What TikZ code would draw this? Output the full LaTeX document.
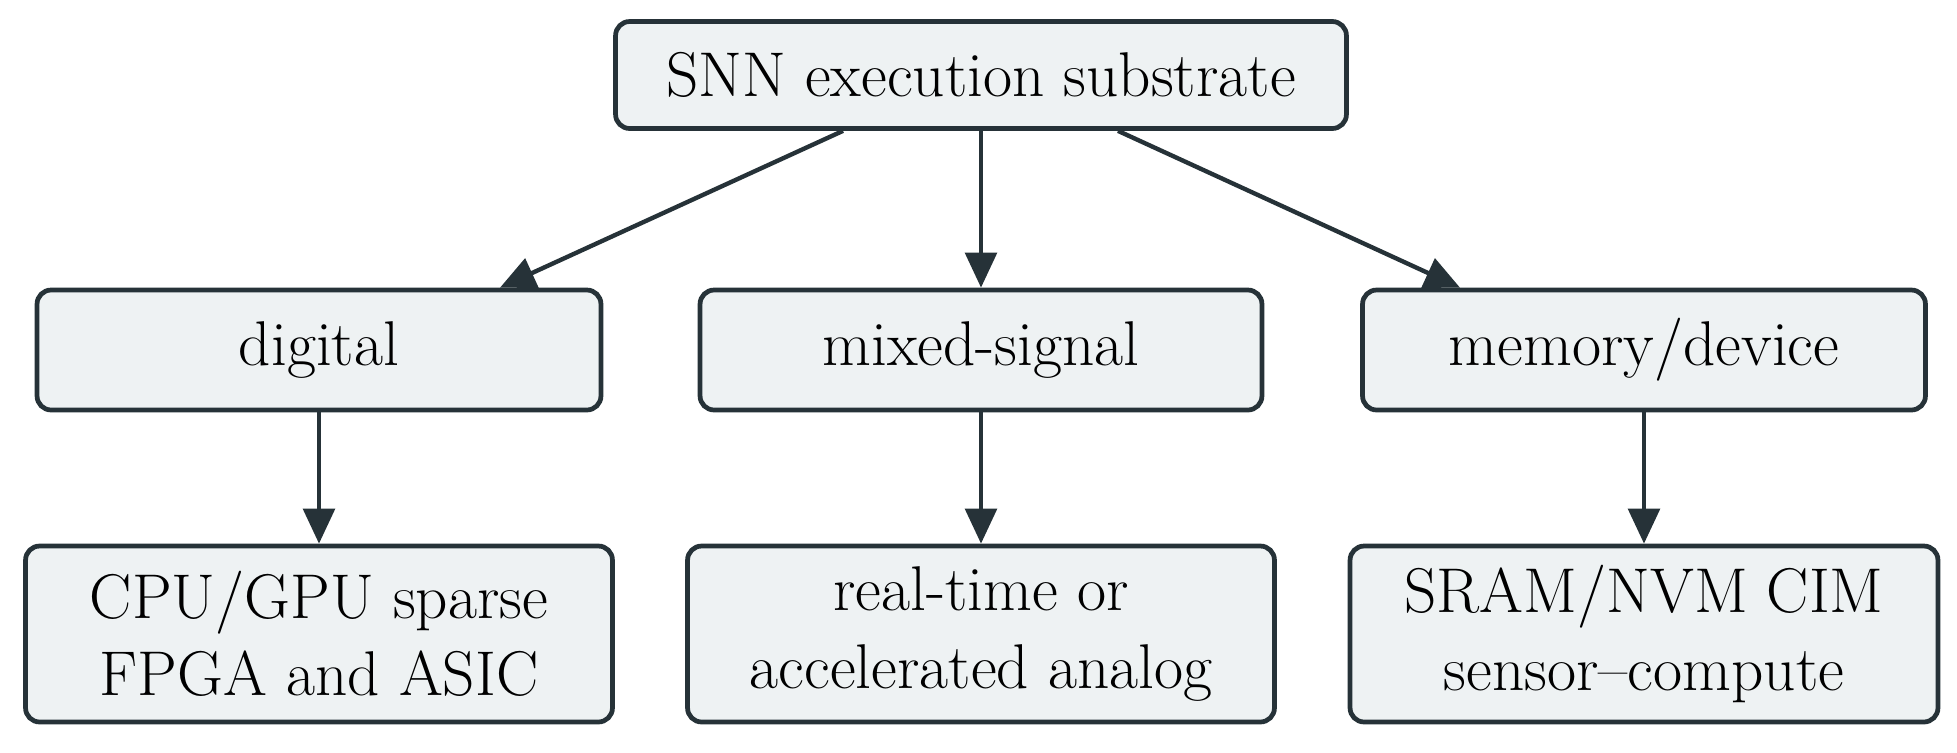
\documentclass[tikz,border=0pt]{standalone}
\usetikzlibrary{arrows.meta}
\definecolor{bfill}{HTML}{EEF2F3}
\definecolor{bline}{HTML}{263238}
\begin{document}
\begin{tikzpicture}[x=0.02cm,y=-0.02cm,
  box/.style={draw=bline,fill=bfill,line width=2.7pt,rounded corners=8pt,inner sep=0pt,align=center,font=\fontsize{36}{44}\selectfont},
  arr/.style={draw=bline,line width=2.5pt,-{Triangle[length=20pt,width=18pt]}}]
\useasboundingbox (0,0) rectangle (1957,752);
\node[box,minimum width=14.62cm,minimum height=2.14cm] (top) at (981,75) {SNN execution substrate};
\node[box,minimum width=11.28cm,minimum height=2.4cm] (dig) at (319,350) {digital};
\node[box,minimum width=11.24cm,minimum height=2.4cm] (mix) at (981,350) {mixed-signal};
\node[box,minimum width=11.26cm,minimum height=2.4cm] (mem) at (1644,350) {memory/device};
\node[box,minimum width=11.74cm,minimum height=3.52cm] (cpu) at (319,634) {CPU/GPU sparse\\FPGA and ASIC};
\node[box,minimum width=11.74cm,minimum height=3.52cm] (rt) at (981,634) {real-time or\\accelerated analog};
\node[box,minimum width=11.76cm,minimum height=3.52cm] (sram) at (1644,634) {SRAM/NVM CIM\\sensor--compute};
\draw[arr] (top.south -| 843,0) -- (dig.north -| 500,0);
\draw[arr] (top) -- (mix);
\draw[arr] (top.south -| 1118,0) -- (mem.north -| 1460,0);
\draw[arr] (dig) -- (cpu);
\draw[arr] (mix) -- (rt);
\draw[arr] (mem) -- (sram);
\end{tikzpicture}
\end{document}
